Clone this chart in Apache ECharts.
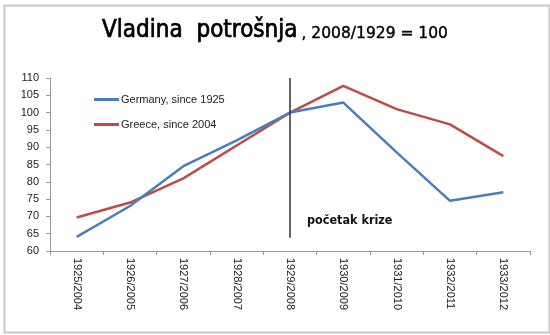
<!DOCTYPE html>
<html><head><meta charset="utf-8">
<script src="https://cdn.jsdelivr.net/npm/echarts@6/dist/echarts.min.js"></script>
<style>html,body{margin:0;padding:0;background:#fff}#c{width:550px;height:335px}</style>
</head><body><div id="c"></div>
<script>
const categories = ['1925/2004','1926/2005','1927/2006','1928/2007','1929/2008','1930/2009','1931/2010','1932/2011','1933/2012'];
const germany = [64.1, 73, 84.5, 92, 100, 102.9, 88.5, 74.5, 77];
const greece = [69.7, 74, 81, 90.5, 100, 107.7, 101, 96.6, 87.4];
const yTicks = {min: 60, max: 110, interval: 5};
const crisisCategory = '1929/2008';
const crisisSpan = [110, 63.8];

const chart = echarts.init(document.getElementById('c'));
const font = 'Liberation Sans';
chart.setOption({
  animation: false,
  backgroundColor: '#fff',
  title: {
    text: '{a|Vladina  potrošnja}{b|, 2008/1929 = 100}',
    left: 'center', top: 14,
    textStyle: {
      rich: {
        a: {fontFamily: 'DejaVu Sans Condensed', fontSize: 24, fontWeight: 'normal', color: '#000',
            textBorderColor: '#000', textBorderWidth: 0.7},
        b: {fontFamily: 'DejaVu Sans', fontSize: 15.5, fontWeight: 'normal', color: '#000',
            textBorderColor: '#000', textBorderWidth: 0.4, padding: [5,0,0,4]}
      }
    }
  },
  legend: {
    orient: 'vertical', left: 89, top: 89, itemWidth: 25, itemHeight: 3, itemGap: 14,
    icon: 'rect',
    textStyle: {fontFamily: font, fontSize: 11, color: '#222', padding: [0,0,0,-3]},
    data: ['Germany, since 1925', 'Greece, since 2004']
  },
  grid: {left: 50, right: 20, top: 78, bottom: 84},
  xAxis: {
    type: 'category', data: categories, boundaryGap: true,
    axisLine: {lineStyle: {color: '#999'}},
    axisTick: {show: true, length: 4, interval: 0, lineStyle: {color: '#999'}},
    axisLabel: {rotate: -90, interval: 0, fontFamily: font, fontSize: 11, color: '#222', margin: 7}
  },
  yAxis: {
    type: 'value', min: yTicks.min, max: yTicks.max, interval: yTicks.interval,
    axisLine: {show: true, lineStyle: {color: '#999'}},
    axisTick: {show: true, length: 4, lineStyle: {color: '#999'}},
    splitLine: {show: false},
    axisLabel: {fontFamily: font, fontSize: 11, color: '#222', margin: 11}
  },
  series: [
    {name: 'Germany, since 1925', type: 'line', data: germany, symbol: 'none',
     lineStyle: {color: '#4a7ebb', width: 2.5}, itemStyle: {color: '#4a7ebb'}, z: 3},
    {name: 'Greece, since 2004', type: 'line', data: greece, symbol: 'none',
     lineStyle: {color: '#be4b48', width: 2.5}, itemStyle: {color: '#be4b48'}, z: 2,
     markLine: {silent: true, symbol: 'none', label: {show: false},
       lineStyle: {color: '#333', width: 1.5, type: 'solid'},
       data: [[{coord: [crisisCategory, crisisSpan[0]]}, {coord: [crisisCategory, crisisSpan[1]]}]]}}
  ],
  graphic: [
    {type: 'rect', left: 2, top: 3, shape: {width: 545, height: 327},
     style: {fill: 'none', stroke: '#c8c8c8', lineWidth: 2}, silent: true, z: -1},
    {type: 'text', left: 307, top: 214,
     style: {text: 'početak krize', font: 'bold 12.5px "DejaVu Sans Condensed"', fill: '#111'}}
  ]
});
</script></body></html>
